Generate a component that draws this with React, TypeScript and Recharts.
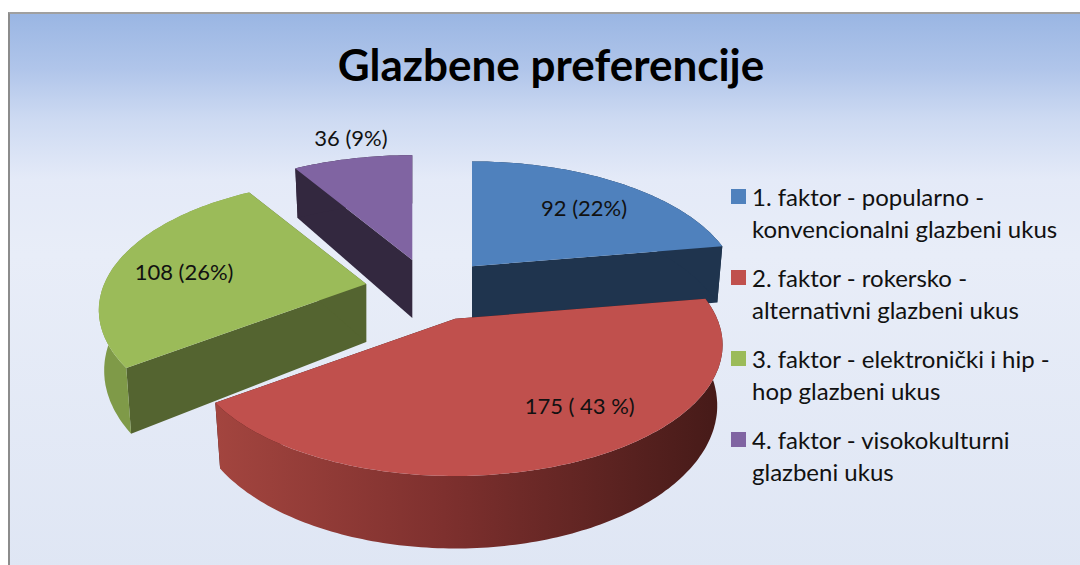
import { Legend, Pie, PieChart } from 'recharts';

const categories = [
    '1. faktor - popularno -\nkonvencionalni glazbeni ukus',
    '2. faktor - rokersko -\nalternativni glazbeni ukus',
    '3. faktor - elektronički i hip -\nhop glazbeni ukus',
    '4. faktor - visokokulturni\nglazbeni ukus',
];
const values = [92, 175, 108, 36];
const valueLabels = ['92 (22%)', '175 ( 43 %)', '108 (26%)', '36  (9%)'];
const topColors = ['#4F81BD', '#C0504D', '#9BBB59', '#8064A2'];
const cutColors = ['#1F344E', '#3d1614', '#546430', '#33283F'];
const wallColors = ['#1F344E', 'url(#redWall)', '#7F9A48', '#33283F'];

// label placement, fraction of the radius plus a small nudge
const labelRadius = [0.75, 0.7, 0.7, 1.2];
const labelNudge = [[-2, 6], [43, -6], [-7, 4], [8, -4]];

const FONT = 'Lato, sans-serif';
const EXPLODE = 65;
const TILT = 0.48;
const PERSPECTIVE = 0.2;
const DEPTH = 58;

const pieData = values.map((value, i) => ({ name: categories[i], value, fill: topColors[i] }));

// fake 3D: flatten the circle to an ellipse, with nearer points drawn larger
function apexOf(cx: number, cy: number, midAngle: number) {
    const t = ((90 - midAngle) * Math.PI) / 180;
    return { x: cx + EXPLODE * Math.sin(t), y: cy - EXPLODE * TILT * Math.cos(t) };
}

function project(apex: { x: number; y: number }, r: number, angle: number, frac = 1) {
    const t = ((90 - angle) * Math.PI) / 180;
    const wx = frac * Math.sin(t);
    const wy = -frac * Math.cos(t);
    const s = 1 / (1 - PERSPECTIVE * wy);
    return { x: apex.x + r * wx * s, y: apex.y + r * TILT * wy * s, s };
}

const lower = (apex: { x: number; y: number }, p: { x: number; y: number; s: number }) => ({
    x: apex.x + (p.x - apex.x) * 0.98,
    y: p.y + DEPTH * p.s,
});

const toPath = (pts: { x: number; y: number }[]) =>
    'M' + pts.map((p) => `${p.x.toFixed(1)},${p.y.toFixed(1)}`).join('L') + 'Z';

function Slice(props: any) {
    const { cx, cy, outerRadius, startAngle, endAngle, index } = props;
    const apex = apexOf(cx, cy, (startAngle + endAngle) / 2);
    const arc = [];
    const steps = Math.ceil(Math.abs(startAngle - endAngle));
    for (let k = 0; k <= steps; k++) {
        arc.push(project(apex, outerRadius, startAngle + ((endAngle - startAngle) * k) / steps));
    }
    const first = arc[0];
    const last = arc[arc.length - 1];
    const apexLow = { x: apex.x, y: apex.y + DEPTH };
    const wall = [...arc, ...arc.map((p) => lower(apex, p)).reverse()];
    return (
        <g>
            <path d={toPath([apex, first, lower(apex, first), apexLow])} fill={cutColors[index]} />
            <path d={toPath([apex, last, lower(apex, last), apexLow])} fill={cutColors[index]} />
            <path d={toPath(wall)} fill={wallColors[index]} />
            <path d={toPath([apex, ...arc])} fill={topColors[index]} />
        </g>
    );
}

function renderLabel(props: any) {
    const { cx, cy, outerRadius, midAngle, index } = props;
    const p = project(apexOf(cx, cy, midAngle), outerRadius, midAngle, labelRadius[index]);
    return (
        <text
            x={p.x + labelNudge[index][0]}
            y={p.y + labelNudge[index][1]}
            textAnchor="middle"
            dominantBaseline="central"
            fontFamily={FONT}
            fontSize={22}
            fill="#111"
        >
            {valueLabels[index]}
        </text>
    );
}

function renderLegend(props: any) {
    return (
        <div style={{ fontFamily: FONT, fontSize: 24, lineHeight: '32px', color: '#111' }}>
            {(props.payload || []).map((entry: any, i: number) => (
                <div key={i} style={{ position: 'relative', height: 81, paddingLeft: 21, whiteSpace: 'pre-line' }}>
                    <span style={{ position: 'absolute', left: 0, top: 8, width: 15, height: 15, background: topColors[i] }} />
                    {entry.value}
                </div>
            ))}
        </div>
    );
}

export default function App() {
    return (
        <div style={{ position: 'absolute', left: 0, top: 0, width: 1080, height: 565, overflow: 'hidden', background: '#fff' }}>
            <div
                style={{
                    position: 'absolute',
                    left: 8,
                    top: 12,
                    width: 1080,
                    height: 560,
                    boxSizing: 'border-box',
                    borderLeft: '2px solid #8c8c8c',
                    borderTop: '2px solid #a0a0a0',
                    background: 'linear-gradient(#9AB6E3 0px, #B0C5EA 55px, #CDDAF2 105px, #E4EAF8 165px, #E8EDF8 240px, #DFE6F4 560px)',
                }}
            />
            <PieChart width={1080} height={565} margin={{ top: 0, right: 0, bottom: 0, left: 0 }} style={{ position: 'absolute', left: 0, top: 0 }}>
                <defs>
                    <linearGradient id="redWall" x1="0" y1="0" x2="1" y2="0">
                        <stop offset="0%" stopColor="#A3453F" />
                        <stop offset="45%" stopColor="#7E302E" />
                        <stop offset="100%" stopColor="#451A18" />
                    </linearGradient>
                </defs>
                <text x={551} y={64} textAnchor="middle" dominantBaseline="central" fontFamily={FONT} fontWeight={700} fontSize={44} fill="#000">
                    Glazbene preferencije
                </text>
                <Pie
                    data={pieData}
                    dataKey="value"
                    nameKey="name"
                    cx={430}
                    cy={290}
                    outerRadius={262}
                    startAngle={90}
                    endAngle={-270}
                    shape={Slice}
                    label={renderLabel}
                    labelLine={false}
                    isAnimationActive={false}
                />
                <Legend
                    layout="vertical"
                    content={renderLegend}
                    wrapperStyle={{ position: 'absolute', left: 731, top: 181, width: 349, bottom: 'auto', right: 'auto' }}
                />
            </PieChart>
        </div>
    );
}
